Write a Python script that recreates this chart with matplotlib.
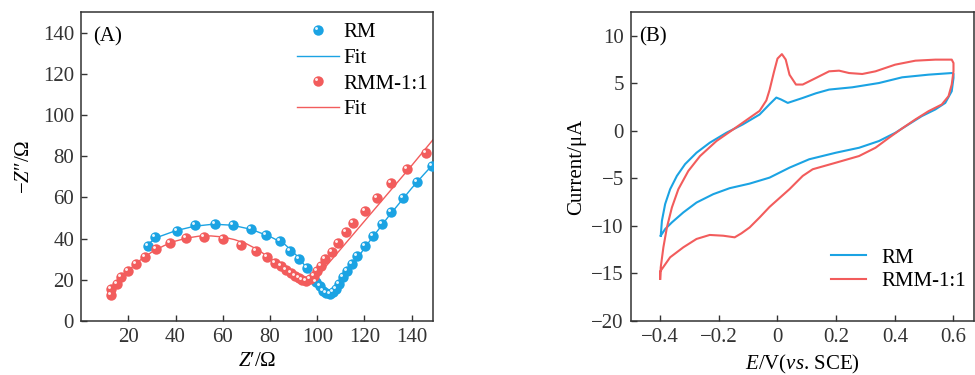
import numpy as np
import matplotlib
matplotlib.use("Agg")
import matplotlib.pyplot as plt
from matplotlib.path import Path
from matplotlib.legend_handler import HandlerTuple

plt.rcParams['font.family'] = ['Liberation Serif', 'DejaVu Serif']
plt.rcParams['mathtext.fontset'] = 'custom'
plt.rcParams['mathtext.rm'] = 'Liberation Serif'
plt.rcParams['mathtext.it'] = 'Liberation Serif:italic'

BLUE = '#1BA3E3'
RED = '#F25C5C'

# (A) Nyquist data
rm_x = [28.4, 31.2, 40.6, 48.1, 56.9, 64.2, 71.8, 78.4, 84.1, 88.6, 92.3, 95.6,
        99.6, 101.0, 102.4, 103.8, 105.2, 106.6, 108.0, 109.4, 110.8, 112.5,
        114.7, 116.8, 120.2, 123.4, 127.4, 131.3, 136.4, 142.4, 148.7]
rm_y = [36.5, 40.9, 43.8, 46.5, 47.3, 46.7, 44.7, 41.8, 38.6, 34.1, 30.1, 25.7,
        18.8, 16.9, 14.8, 13.4, 13.2, 14.0, 15.6, 18.0, 21.2, 24.1,
        27.7, 31.7, 36.5, 41.4, 47.0, 53.1, 59.9, 67.4, 75.2]
rm_fit_x = [28, 32, 40, 48, 56, 64, 72, 80, 86, 92, 96, 99, 101, 103, 105, 107,
            109, 112, 116, 120, 125, 130, 135, 140, 145, 149]
rm_fit_y = [37, 40.5, 43.8, 46, 47, 46.5, 44.5, 41, 37.5, 31, 25, 19.5, 16, 14,
            13.3, 14, 16.5, 21.5, 28.5, 35.5, 43, 50.5, 57.5, 64.5, 71, 76]

rmm_x = [12.8, 12.8, 15.1, 16.8, 20.0, 23.1, 27.0, 31.8, 37.8, 44.6, 51.9, 59.9,
         67.6, 74.0, 78.8, 82.3, 84.7, 86.9, 88.8, 90.5, 92.1, 93.7, 95.4, 97.1,
         98.6, 100.0, 101.7, 103.4, 106.3, 108.7, 112.2, 115.3, 120.2, 125.5,
         131.2, 138.2, 146.2]
rmm_y = [12.4, 15.6, 18.0, 21.6, 24.5, 27.7, 31.2, 34.9, 38.1, 40.2, 41.0, 39.7,
         37.0, 34.1, 30.9, 28.2, 26.6, 24.8, 23.2, 21.9, 20.9, 20.0, 19.6, 20.4,
         22.0, 24.1, 26.9, 30.1, 33.3, 37.8, 43.0, 47.5, 53.4, 59.9,
         66.8, 74.0, 81.6]
rmm_fit_x = [13, 15, 20, 25, 30, 35, 40, 45, 50, 55, 60, 65, 70, 75, 80, 85, 90,
             93, 95, 97, 99, 101, 104, 110, 120, 130, 140, 149]
rmm_fit_y = [15.5, 18.5, 24.5, 29.5, 33.5, 36.5, 38.8, 40.3, 41.2, 41.3, 40.8,
             39.5, 37.5, 34.5, 30.5, 26.5, 22.5, 20.5, 19.6, 19.7, 21, 23.2, 27,
             35, 48.5, 62, 75.5, 88]

# (B) CV data (one closed loop each)
rm_E = [-0.398, -0.394, -0.383, -0.366, -0.343, -0.315, -0.276, -0.231, -0.174,
        -0.118, -0.061, -0.027, -0.004, 0.012, 0.035, 0.086, 0.131, 0.176, 0.255,
        0.346, 0.425, 0.515, 0.594, 0.600, 0.600, 0.594, 0.572, 0.538, 0.492,
        0.447, 0.402, 0.346, 0.278, 0.199, 0.108, 0.041, -0.027, -0.095, -0.163,
        -0.219, -0.276, -0.321, -0.360, -0.383, -0.398]
rm_I = [-11.03, -9.46, -7.7, -6.14, -4.74, -3.5, -2.3, -1.25, -0.2,
        0.68, 1.72, 2.8, 3.5, 3.3, 2.94, 3.46, 3.95, 4.34, 4.58,
        5.03, 5.63, 5.91, 6.08, 6.0, 5.56, 4.17, 2.94, 2.25, 1.55,
        0.68, -0.2, -1.07, -1.78, -2.3, -2.99, -3.87, -4.92, -5.55, -6.03,
        -6.66, -7.54, -8.58, -9.63, -10.33, -11.03]
rmm_E = [-0.400, -0.398, -0.389, -0.377, -0.360, -0.338, -0.304, -0.264, -0.208,
         -0.151, -0.095, -0.061, -0.038, -0.027, -0.012, 0.000, 0.015, 0.028,
         0.041, 0.063, 0.086, 0.131, 0.176, 0.210, 0.244, 0.289, 0.334, 0.401,
         0.470, 0.538, 0.594, 0.600, 0.600, 0.594, 0.583, 0.560, 0.515, 0.470,
         0.425, 0.380, 0.334, 0.278, 0.199, 0.120, 0.086, 0.041, -0.027, -0.061,
         -0.095, -0.123, -0.146, -0.185, -0.231, -0.276, -0.321, -0.366, -0.400,
         -0.400]
rmm_I = [-15.57, -14.35, -12.25, -10.16, -8.06, -6.14, -4.22, -2.65, -1.07,
         0.15, 1.37, 2.1, 3.2, 4.3, 6.2, 7.6, 8.07, 7.5,
         5.9, 4.87, 4.87, 5.56, 6.26, 6.33, 6.08, 5.98, 6.26, 6.96,
         7.38, 7.49, 7.49, 7.13, 6.26, 4.87, 3.64, 2.77, 2.07, 1.2,
         0.26, -0.73, -1.78, -2.65, -3.35, -4.04, -4.74, -6.13, -8.0, -9.11,
         -10.16, -10.78, -11.2, -11.03, -10.95, -11.37, -12.25, -13.3, -14.8,
         -15.57]

# highlight marker for the shaded balls
t = np.linspace(0, 2 * np.pi, 24)
hl = np.column_stack([-0.38 + 0.28 * np.cos(t), 0.38 + 0.28 * np.sin(t)])
verts = np.vstack([[[-1, -1]], [[1, 1]], hl])
codes = [Path.MOVETO, Path.MOVETO, Path.MOVETO] + [Path.LINETO] * (len(t) - 2) + [Path.CLOSEPOLY]
shine = Path(verts, codes)

fig = plt.figure(figsize=(9.75, 3.75), dpi=100)
axA = fig.add_axes([0.0831, 0.144, 0.361, 0.824])
axB = fig.add_axes([0.647, 0.144, 0.352, 0.824])

ms = 7.5
def balls(ax, x, y, color):
    b, = ax.plot(x, y, 'o', ms=ms, color=color, mew=0, zorder=3)
    s, = ax.plot(x, y, ls='none', marker=shine, ms=ms, color='white', mew=0, alpha=0.9, zorder=4)
    return (b, s)

h1 = balls(axA, rm_x, rm_y, BLUE)
f1, = axA.plot(rm_fit_x, rm_fit_y, color=BLUE, lw=1.0, zorder=2)
h2 = balls(axA, rmm_x, rmm_y, RED)
f2, = axA.plot(rmm_fit_x, rmm_fit_y, color=RED, lw=1.0, zorder=2)

axA.set_xlim(0, 149)
axA.set_ylim(0, 150)
axA.set_xticks([20, 40, 60, 80, 100, 120, 140])
axA.set_yticks([0, 20, 40, 60, 80, 100, 120, 140])
axA.set_xlabel(r"$\mathit{Z}$′/Ω", fontsize=15, labelpad=4)
axA.set_ylabel(r"−$\mathit{Z}$″/Ω", fontsize=15, labelpad=6)
axA.text(0.035, 0.95, "(A)", transform=axA.transAxes, fontsize=15, va='top')
axA.legend([h1, f1, h2, f2], ["RM", "Fit", "RMM-1:1", "Fit"],
           handler_map={tuple: HandlerTuple(ndivide=1)},
           loc='upper right', bbox_to_anchor=(1.015, 1.0), frameon=False,
           fontsize=15, borderaxespad=0.1, labelspacing=0.3, handlelength=2.0,
           handletextpad=0.2)

axB.plot(rm_E, rm_I, color=BLUE, lw=1.5, label="RM")
axB.plot(rmm_E, rmm_I, color=RED, lw=1.5, label="RMM-1:1")
axB.set_xlim(-0.5, 0.67)
axB.set_ylim(-20, 12.5)
axB.set_xticks([-0.4, -0.2, 0, 0.2, 0.4, 0.6])
axB.set_xticklabels(["−0.4", "−0.2", "0", "0.2", "0.4", "0.6"])
axB.set_yticks([-20, -15, -10, -5, 0, 5, 10])
axB.set_yticklabels(["−20", "−15", "−10", "−5", "0", "5", "10"])
axB.set_xlabel(r"$\mathit{E}$/V($\mathit{vs}$. SCE)", fontsize=15, labelpad=4)
axB.set_ylabel("Current/μA", fontsize=15, labelpad=4)
axB.text(0.025, 0.95, "(B)", transform=axB.transAxes, fontsize=15, va='top')
axB.legend(loc='lower right', frameon=False, fontsize=15,
           bbox_to_anchor=(1.03, 0.035), labelspacing=0.2, handlelength=1.7,
           handletextpad=0.7)

for ax in (axA, axB):
    for sp in ax.spines.values():
        sp.set_linewidth(1.1)
        sp.set_color('#333333')
    ax.tick_params(direction='in', length=4, width=1.0, labelsize=15,
                   colors='#333333', pad=5)

fig.savefig("out.png", dpi=100)
